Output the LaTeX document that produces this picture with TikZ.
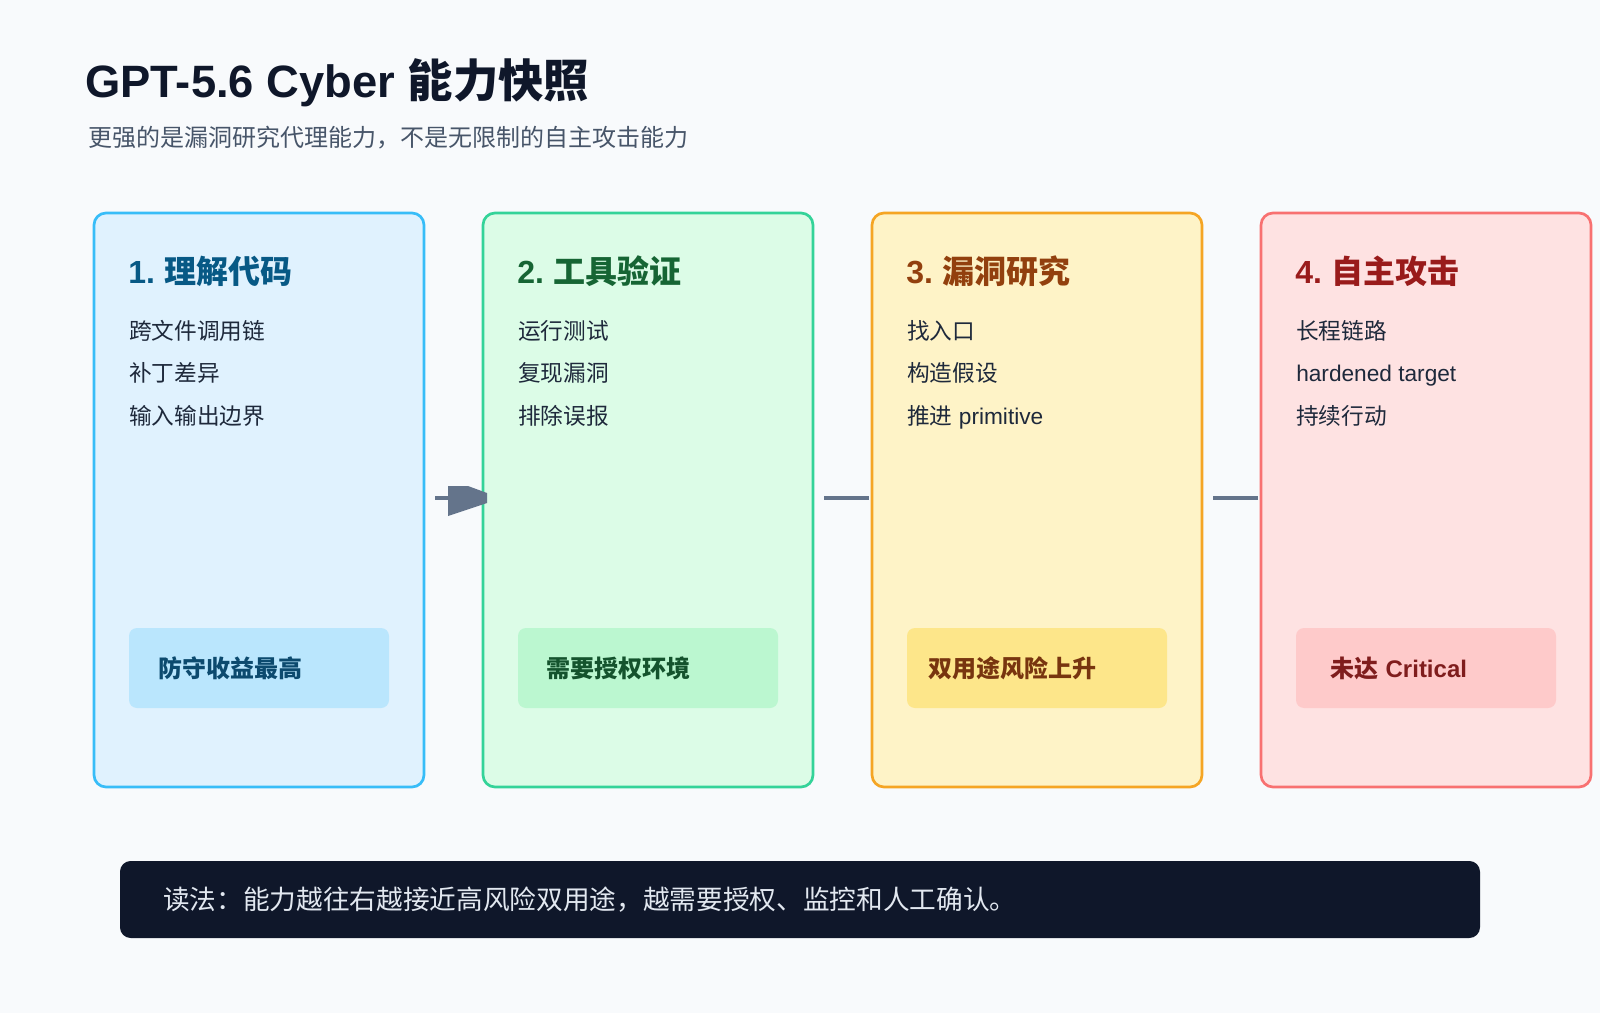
\documentclass[tikz,border=0pt]{standalone}
\usepackage{fontspec}
\setmainfont{Liberation Sans}
\newfontfamily\cjk{Noto Sans CJK SC}
\usetikzlibrary{calc}
\definecolor{bg}{HTML}{F8FAFC}
\definecolor{ink}{HTML}{0F172A}
\definecolor{sub}{HTML}{475569}
\definecolor{itemc}{HTML}{1E293B}
\definecolor{connc}{HTML}{64748B}
\definecolor{bannertext}{HTML}{E2E8F0}
\definecolor{bordA}{HTML}{38BDF8}\definecolor{fillA}{HTML}{E0F2FE}\definecolor{titA}{HTML}{075985}\definecolor{pillA}{HTML}{BAE6FD}\definecolor{ptA}{HTML}{0C4A6E}
\definecolor{bordB}{HTML}{34D399}\definecolor{fillB}{HTML}{DCFCE7}\definecolor{titB}{HTML}{166534}\definecolor{pillB}{HTML}{BBF7D0}\definecolor{ptB}{HTML}{14532D}
\definecolor{bordC}{HTML}{F5A524}\definecolor{fillC}{HTML}{FEF3C7}\definecolor{titC}{HTML}{92400E}\definecolor{pillC}{HTML}{FDE68A}\definecolor{ptC}{HTML}{78350F}
\definecolor{bordD}{HTML}{F87171}\definecolor{fillD}{HTML}{FEE2E2}\definecolor{titD}{HTML}{991B1B}\definecolor{pillD}{HTML}{FECACA}\definecolor{ptD}{HTML}{7F1D1D}
\tikzset{
  card/.style={draw, line width=2pt, rounded corners=9pt, minimum width=247.5pt, minimum height=430.5pt, inner sep=0pt, outer sep=0pt},
  pill/.style={rounded corners=6pt, minimum width=195pt, minimum height=60pt, inner sep=0pt, outer sep=0pt},
  cardtitle/.style={anchor=base west, inner sep=0pt, font=\fontsize{24}{28}\selectfont\bfseries},
  item/.style={anchor=base west, inner sep=0pt, text=itemc, font=\fontsize{17}{20}\selectfont},
  pilltext/.style={anchor=base, inner sep=0pt, font=\fontsize{18}{22}\selectfont\bfseries},
  conn/.style={draw=connc, line width=3pt},
}
\begin{document}
\begin{tikzpicture}[x=0.75pt,y=-0.75pt]
\fill[bg] (0,0) rectangle (1600,1013);
\useasboundingbox (0,0) rectangle (1600,1013);

% title
\node[anchor=base west, inner sep=0pt, text=ink, font=\fontsize{34}{38}\selectfont\bfseries] (title) at (85,98) {GPT-5.6 Cyber {\cjk 能力快照}};
\node[anchor=base west, inner sep=0pt, text=sub, font=\fontsize{18}{22}\selectfont\cjk] (subtitle) at (88,147) {更强的是漏洞研究代理能力，不是无限制的自主攻击能力};

% cards
\node[card, draw=bordA, fill=fillA] (b1) at (259,500) {};
\node[card, draw=bordB, fill=fillB] (b2) at (648,500) {};
\node[card, draw=bordC, fill=fillC] (b3) at (1037,500) {};
\node[card, draw=bordD, fill=fillD] (b4) at (1426,500) {};

% connectors
\draw[conn] ($(b1.east)+(11,-2)$) -- ($(b2.west)+(-34,-2)$);
\fill[connc] ($(b2.west)+(-35,-14)$) -- ++(20,0) -- ++(19,7) -- ++(0,10) -- ++(-39,13) -- cycle;
\draw[conn] ($(b2.east)+(11,-2)$) -- ($(b3.west)+(-3,-2)$);
\draw[conn] ($(b3.east)+(11,-2)$) -- ($(b4.west)+(-3,-2)$);

% card 1
\node[cardtitle, text=titA] (t1) at (128,283) {1.\hspace{0.3em}{\cjk 理解代码}};
\node[item] (i11) at (129,339) {\cjk 跨文件调用链};
\node[item] (i12) at (129,381) {\cjk 补丁差异};
\node[item] (i13) at (129,424) {\cjk 输入输出边界};
\node[pill, fill=pillA] (p1) at (259,668) {};
\node[pilltext, text=ptA] (pt1) at (230,677) {\cjk 防守收益最高};

% card 2
\node[cardtitle, text=titB] (t2) at (517,283) {2.\hspace{0.3em}{\cjk 工具验证}};
\node[item] (i21) at (518,339) {\cjk 运行测试};
\node[item] (i22) at (518,381) {\cjk 复现漏洞};
\node[item] (i23) at (518,424) {\cjk 排除误报};
\node[pill, fill=pillB] (p2) at (648,668) {};
\node[pilltext, text=ptB] (pt2) at (618,677) {\cjk 需要授权环境};

% card 3
\node[cardtitle, text=titC] (t3) at (906,283) {3.\hspace{0.3em}{\cjk 漏洞研究}};
\node[item] (i31) at (907,339) {\cjk 找入口};
\node[item] (i32) at (907,381) {\cjk 构造假设};
\node[item] (i33) at (907,424) {{\cjk 推进} primitive};
\node[pill, fill=pillC] (p3) at (1037,668) {};
\node[pilltext, text=ptC] (pt3) at (1012,677) {\cjk 双用途风险上升};

% card 4
\node[cardtitle, text=titD] (t4) at (1295,283) {4.\hspace{0.3em}{\cjk 自主攻击}};
\node[item] (i41) at (1296,339) {\cjk 长程链路};
\node[item] (i42) at (1296,381) {hardened target};
\node[item] (i43) at (1296,424) {\cjk 持续行动};
\node[pill, fill=pillD] (p4) at (1426,668) {};
\node[pilltext, text=ptD] (pt4) at (1399,677) {{\cjk 未达} Critical};

% banner
\node[fill=ink, rounded corners=8pt, minimum width=1020pt, minimum height=57.75pt, inner sep=0pt] (banner) at (800,899.5) {};
\node[anchor=base west, inner sep=0pt, text=bannertext, font=\fontsize{20}{24}\selectfont\cjk] (bannertxt) at (163,909) {读法：能力越往右越接近高风险双用途，越需要授权、监控和人工确认。};
\end{tikzpicture}
\end{document}
